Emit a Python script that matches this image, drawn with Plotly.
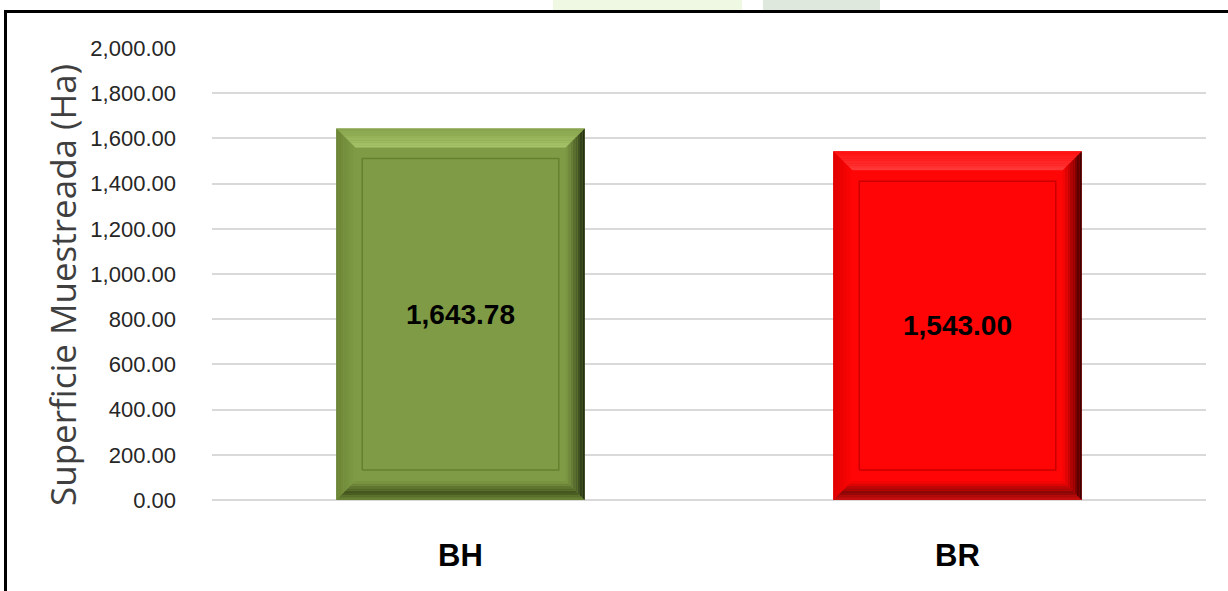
import plotly.graph_objects as go

categories = ["BH", "BR"]
values = [1643.78, 1543.00]
bar_colors = ["#7F9B45", "#FF0505"]
y_title = "Superficie Muestreada (Ha)"

W, H = 1228, 591
ML, MR, MT, MB = 212, 22, 48, 91
PW, PH = W - ML - MR, H - MT - MB
YMAX = 2000
XMIN, XMAX = -0.5, len(categories) - 0.5
BAR_W = 0.5

def px_x(px):
    return px * (XMAX - XMIN) / PW

def px_y(px):
    return px * YMAX / PH

def hex2rgb(h):
    h = h.lstrip("#")
    return tuple(int(h[i:i + 2], 16) for i in (0, 2, 4))

def mix(c1, c2, t):
    a, b = hex2rgb(c1), hex2rgb(c2)
    r = [round(a[i] + (b[i] - a[i]) * t) for i in range(3)]
    return "rgb(%d,%d,%d)" % tuple(r)

bevel = {
    "#7F9B45": dict(top_o="#86A24B", top_i="#A9C66C", left_o="#6A8435", right_o="#1A220C",
                    bot_o="#6E8838", bot_m="#41521C", line="#66802F"),
    "#FF0505": dict(top_o="#FF1010", top_i="#FF3A3A", left_o="#DC0000", right_o="#280000",
                    bot_o="#D01010", bot_m="#840606", line="#CC0000"),
}

fig = go.Figure()
xs = list(range(len(categories)))
fig.add_trace(go.Bar(
    x=xs, y=values, width=BAR_W,
    marker=dict(color=bar_colors, line=dict(width=0)),
    text=values, texttemplate="%{y:,.2f}", textposition="inside",
    insidetextanchor="middle", textangle=0,
    textfont=dict(family="Liberation Sans", size=28, color="#000000", weight="bold"),
    hoverinfo="skip", showlegend=False,
))

bx, by = px_x(19), px_y(19)
ix, iy = px_x(26), px_y(30)
N = 8

def poly(xs_, ys_, color):
    fig.add_trace(go.Scatter(x=xs_ + [xs_[0]], y=ys_ + [ys_[0]], fill="toself", fillcolor=color,
                             mode="lines", line=dict(width=0, color=color),
                             hoverinfo="skip", showlegend=False))

for xc, v, col in zip(xs, values, bar_colors):
    b = bevel[col]
    x0, x1 = xc - BAR_W / 2, xc + BAR_W / 2
    for k in range(N):
        t0, t1 = k / N, (k + 1) / N
        tm = (k + 0.5) / N
        poly([x0 + bx * t0, x1 - bx * t0, x1 - bx * t1, x0 + bx * t1],
             [v - by * t0, v - by * t0, v - by * t1, v - by * t1],
             mix(b["top_o"], b["top_i"], tm))
        poly([x0 + bx * t0, x0 + bx * t0, x0 + bx * t1, x0 + bx * t1],
             [by * t0, v - by * t0, v - by * t1, by * t1],
             mix(b["left_o"], col, tm))
        c = mix(b["bot_o"], b["bot_m"], tm / 0.4) if tm < 0.4 else mix(b["bot_m"], col, (tm - 0.4) / 0.6)
        poly([x0 + bx * t0, x1 - bx * t0, x1 - bx * t1, x0 + bx * t1],
             [by * t0, by * t0, by * t1, by * t1], c)
        poly([x1 - bx * t0, x1 - bx * t0, x1 - bx * t1, x1 - bx * t1],
             [by * t0, v - by * t0, v - by * t1, by * t1],
             mix(b["right_o"], col, tm ** 0.8))
    fig.add_trace(go.Scatter(
        x=[x0 + ix, x1 - ix, x1 - ix, x0 + ix, x0 + ix],
        y=[iy, iy, v - iy, v - iy, iy], mode="lines",
        line=dict(width=1.5, color=b["line"]), hoverinfo="skip", showlegend=False))

def pxp(px):
    return (px - ML) / PW

def pyp(py):
    return (H - MB - py) / PH

shapes = [
    dict(type="rect", xref="paper", yref="paper", x0=pxp(553), x1=pxp(742), y0=pyp(10), y1=pyp(-5),
         fillcolor="#EEF8E2", line=dict(width=0), layer="below"),
    dict(type="rect", xref="paper", yref="paper", x0=pxp(763), x1=pxp(880), y0=pyp(10), y1=pyp(-5),
         fillcolor="#DEE8DC", line=dict(width=0), layer="below"),
    dict(type="line", xref="paper", yref="paper", x0=pxp(4), x1=pxp(1240), y0=pyp(11.5), y1=pyp(11.5),
         line=dict(color="#000000", width=3)),
    dict(type="line", xref="paper", yref="paper", x0=pxp(5.5), x1=pxp(5.5), y0=pyp(10), y1=pyp(600),
         line=dict(color="#000000", width=3)),
]

annotations = [
    dict(text=y_title, xref="paper", yref="paper", x=pxp(62), y=pyp(285),
         xanchor="center", yanchor="middle", textangle=-90, showarrow=False,
         font=dict(family="Open Sans, DejaVu Sans", size=35, color="#3F3F3F")),
]

fig.update_layout(
    width=W, height=H,
    margin=dict(l=ML, r=MR, t=MT, b=MB, pad=0),
    paper_bgcolor="#FFFFFF", plot_bgcolor="#FFFFFF",
    bargap=0.5, showlegend=False,
    shapes=shapes, annotations=annotations,
    xaxis=dict(
        range=[XMIN, XMAX], tickmode="array", tickvals=xs, ticktext=categories,
        showgrid=False, zeroline=False, showline=False, ticks="",
        tickfont=dict(family="Liberation Sans", size=31, color="#000000", weight="bold"),
        ticklabelstandoff=34, fixedrange=True,
    ),
    yaxis=dict(
        range=[0, YMAX], dtick=200, tickformat=",.2f",
        showgrid=True, gridcolor="#D9D9D9", gridwidth=2,
        zeroline=True, zerolinecolor="#D9D9D9", zerolinewidth=2,
        showline=False, ticks="",
        tickfont=dict(family="Liberation Sans", size=22, color="#262626"),
        ticklabelstandoff=35,
        fixedrange=True,
    ),
)

fig.write_html("out.html", config={"displayModeBar": False},
               post_script="document.body.style.margin='0';document.body.style.overflow='hidden';")
